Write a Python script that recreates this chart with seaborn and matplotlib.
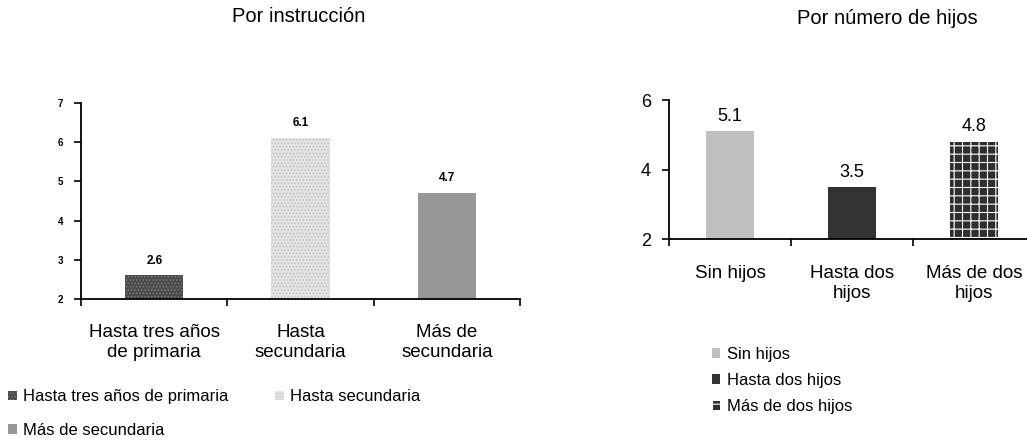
import matplotlib
matplotlib.use("Agg")
import matplotlib.pyplot as plt
from matplotlib.patches import Patch
import seaborn as sns

# Data
edu_cats = ["Hasta tres años de primaria", "Hasta secundaria", "Más de secundaria"]
edu_ticklabels = ["Hasta tres años\nde primaria", "Hasta\nsecundaria", "Más de\nsecundaria"]
edu_vals = [2.6, 6.1, 4.7]

kids_cats = ["Sin hijos", "Hasta dos hijos", "Más de dos hijos"]
kids_ticklabels = ["Sin hijos", "Hasta dos\nhijos", "Más de dos\nhijos"]
kids_vals = [5.1, 3.5, 4.8]

sns.set_theme(style="white")
plt.rcParams["font.family"] = ["Liberation Sans", "DejaVu Sans"]
plt.rcParams["hatch.linewidth"] = 0.8
plt.rcParams["text.color"] = "black"
plt.rcParams["xtick.color"] = "black"
plt.rcParams["ytick.color"] = "black"
plt.rcParams["xtick.labelcolor"] = "black"
plt.rcParams["ytick.labelcolor"] = "black"

fig = plt.figure(figsize=(10.27, 4.4), dpi=100)

# Bar fill styles: (face, hatch, hatch colour)
edu_styles = [("#4a4a4a", ".....", "#7a7a7a"),
              ("#e4e4e4", ".....", "#c4c4c4"),
              ("#979797", None, "#979797")]
kids_styles = [("#c0c0c0", None, "#c0c0c0"),
               ("#333333", None, "#333333"),
               ("#2e2e2e", "++", "#ffffff")]


def draw_panel(ax, cats, ticklabels, vals, styles, ylim, yticks,
               ytick_fs, ytick_bold, label_fs, label_bold, xtick_fs, xmax,
               xpad, ypad, linespacing):
    sns.barplot(x=cats, y=vals, hue=cats, palette=[s[0] for s in styles],
                width=0.4, ax=ax, legend=False, saturation=1)
    for p, (fc, hatch, hc) in zip(ax.patches, styles):
        p.set_facecolor(fc)
        p.set_edgecolor(hc)
        p.set_linewidth(0)
        if hatch:
            p.set_hatch(hatch)
    ax.set_ylim(*ylim)
    ax.set_xlim(-0.5, xmax)
    ax.set_yticks(yticks)
    ax.set_yticklabels([str(t) for t in yticks], fontsize=ytick_fs,
                       fontweight="bold" if ytick_bold else "normal")
    ax.set_xticks(range(len(cats)))
    ax.set_xticklabels(ticklabels, fontsize=xtick_fs, linespacing=linespacing)
    ax.tick_params(axis="x", length=0, pad=xpad)
    ax.set_xticks([i - 0.5 for i in range(len(cats) + 1)], minor=True)
    ax.tick_params(axis="x", which="minor", length=5, width=1.2,
                   direction="out", color="black", bottom=True)
    ax.tick_params(axis="y", length=5, width=1.2, direction="out",
                   color="black", left=True, pad=ypad)
    for side in ("top", "right"):
        ax.spines[side].set_visible(False)
    for side in ("left", "bottom"):
        ax.spines[side].set_color("black")
        ax.spines[side].set_linewidth(1.3)
    ax.set_xlabel("")
    ax.set_ylabel("")
    span = ylim[1] - ylim[0]
    for i, v in enumerate(vals):
        ax.text(i, v + span * 0.045, f"{v}", ha="center", va="bottom",
                fontsize=label_fs, fontweight="bold" if label_bold else "normal")


# Left panel: by education
ax1 = fig.add_axes([0.0789, 0.3205, 0.4275, 0.4455])
draw_panel(ax1, edu_cats, edu_ticklabels, edu_vals, edu_styles,
           (2, 7), [2, 3, 4, 5, 6, 7], 7, True, 8.5, True, 13.5, 2.5,
           18, 8, 1.22)
fig.text(0.291, 0.962, "Por instrucción", ha="center", va="center", fontsize=14.5)

h_edu = [Patch(facecolor=s[0], edgecolor=s[2], hatch=s[1], linewidth=0)
         for s in edu_styles]
fig.legend([h_edu[0], h_edu[2], h_edu[1]],
           [edu_cats[0], edu_cats[2], edu_cats[1]],
           ncol=2, loc="upper left", bbox_to_anchor=(0.008, 0.115),
           bbox_transform=fig.transFigure, frameon=False, fontsize=12,
           handlelength=0.5, handleheight=0.5, handletextpad=0.4,
           columnspacing=2.8, labelspacing=1.1, borderaxespad=0,
           borderpad=0)

# Right panel: by number of children
ax2 = fig.add_axes([0.6514, 0.4568, 0.3564, 0.3159])
draw_panel(ax2, kids_cats, kids_ticklabels, kids_vals, kids_styles,
           (2, 6), [2, 4, 6], 13, False, 13, False, 13.5, 2.44,
           19, 8, 1.2)
fig.text(0.864, 0.958, "Por número de hijos", ha="center", va="center", fontsize=14.5)

h_kids = [Patch(facecolor=s[0], edgecolor=s[2], hatch=s[1], linewidth=0)
          for s in kids_styles]
fig.legend(h_kids, kids_cats, loc="upper left",
           bbox_to_anchor=(0.693, 0.212), bbox_transform=fig.transFigure,
           frameon=False, fontsize=12, handlelength=0.5, handleheight=0.5,
           handletextpad=0.4, labelspacing=0.68, borderaxespad=0,
           borderpad=0)

fig.savefig("out.png", dpi=100)
